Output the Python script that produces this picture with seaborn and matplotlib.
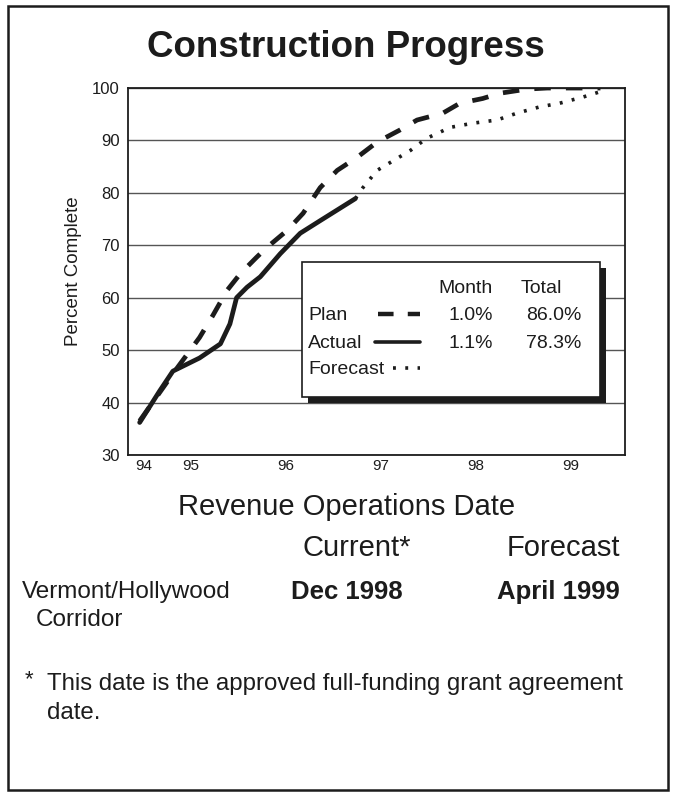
import matplotlib
matplotlib.use("Agg")
import matplotlib.pyplot as plt
import seaborn as sns
import pandas as pd
from matplotlib.patches import Rectangle
from matplotlib.lines import Line2D

# Data (x in fiscal years, y in percent complete)
plan_x = [94.46, 94.81, 95.09, 95.23, 95.38, 95.52, 95.69, 95.80, 96.01, 96.18,
          96.36, 96.54, 96.75, 96.96, 97.20, 97.38, 97.65, 97.83, 98.07, 98.25,
          98.54, 98.75, 99.00, 99.31]
plan_y = [36.5, 45.5, 52.4, 56.6, 61.4, 64.6, 67.7, 69.6, 72.8, 76.1,
          81.0, 84.3, 86.8, 89.7, 92.0, 93.9, 95.2, 97.1, 98.0, 99.0,
          99.8, 100.0, 100.0, 100.0]

actual_x = [94.46, 94.67, 94.81, 95.09, 95.31, 95.41, 95.48, 95.59, 95.73, 95.94,
            96.15, 96.36, 96.73]
actual_y = [36.2, 42.2, 46.0, 48.5, 51.2, 55.0, 60.0, 62.0, 64.0, 68.4,
            72.3, 74.7, 78.9]

forecast_x = [96.73, 96.81, 96.96, 97.31, 97.48, 97.73, 97.97, 98.22, 98.43, 98.67,
              98.88, 99.13, 99.36]
forecast_y = [78.9, 81.0, 84.3, 88.1, 90.4, 92.5, 93.3, 93.9, 95.2, 96.4,
              97.1, 98.3, 99.6]

tick_years = [94.5, 95, 96, 97, 98, 99]
tick_labels = ["94", "95", "96", "97", "98", "99"]

series_names = ["Plan", "Actual", "Forecast"]
month_vals = ["1.0%", "1.1%", ""]
total_vals = ["86.0%", "78.3%", ""]

sns.set_style("white")
plt.rcParams["font.family"] = ["Liberation Sans", "DejaVu Sans"]

ink = "#1c1c1c"

fig = plt.figure(figsize=(6.76, 7.96), dpi=100)
ax = fig.add_axes([0.1893, 0.4284, 0.7352, 0.461])

plan = pd.DataFrame({"x": plan_x, "y": plan_y})
actual = pd.DataFrame({"x": actual_x, "y": actual_y})
forecast = pd.DataFrame({"x": forecast_x, "y": forecast_y})

plan_ls = (0, (3.5, 3.2))
fc_ls = (0, (0.8, 2.6))

sns.lineplot(data=forecast, x="x", y="y", ax=ax, color=ink, lw=2.6,
             linestyle=fc_ls, estimator=None, sort=False, zorder=3)
sns.lineplot(data=plan, x="x", y="y", ax=ax, color=ink, lw=3.4,
             linestyle=plan_ls, estimator=None, sort=False, zorder=3)
sns.lineplot(data=actual, x="x", y="y", ax=ax, color=ink, lw=3.4,
             estimator=None, sort=False, zorder=4)

ax.set_xlim(94.337, 99.568)
ax.set_ylim(30, 100)
ax.set_yticks(range(30, 101, 10))
ax.set_xticks(tick_years)
ax.set_xticklabels(tick_labels)
ax.tick_params(axis="y", length=0, pad=6, labelsize=12, labelcolor=ink)
ax.tick_params(axis="x", length=0, pad=3, labelsize=11, labelcolor=ink)
ax.grid(axis="y", color="#555555", lw=1.0)
ax.grid(axis="x", visible=False)
for sp in ax.spines.values():
    sp.set_color(ink)
    sp.set_linewidth(1.3)
ax.set_xlabel("")
ax.set_ylabel("Percent Complete", fontsize=13.5, color=ink)
ax.yaxis.set_label_coords(-0.093, 0.5)

# legend box with shadow
ax.add_patch(Rectangle((0.362, 0.142), 0.600, 0.368, transform=ax.transAxes,
                       facecolor=ink, edgecolor="none", zorder=5))
ax.add_patch(Rectangle((0.350, 0.158), 0.600, 0.368, transform=ax.transAxes,
                       facecolor="white", edgecolor=ink, lw=1.2, zorder=6))
leg_fs = 14
ax.text(0.680, 0.455, "Month", transform=ax.transAxes, ha="center", va="center",
        fontsize=leg_fs, color=ink, zorder=7)
ax.text(0.831, 0.455, "Total", transform=ax.transAxes, ha="center", va="center",
        fontsize=leg_fs, color=ink, zorder=7)
row_y = [0.381, 0.305, 0.232]
samples = [(0.503, plan_ls, 3.2), (0.497, "-", 2.6), (0.533, fc_ls, 2.6)]
for name, mv, tv, yy, (x0, ls, lw) in zip(series_names, month_vals, total_vals,
                                          row_y, samples):
    ax.text(0.362, yy, name, transform=ax.transAxes, ha="left", va="center",
            fontsize=leg_fs, color=ink, zorder=7)
    ax.add_line(Line2D([x0, 0.588], [yy + 0.004, yy + 0.004], transform=ax.transAxes,
                       color=ink, lw=lw, linestyle=ls, zorder=7))
    ax.text(0.734, yy, mv, transform=ax.transAxes, ha="right", va="center",
            fontsize=leg_fs, color=ink, zorder=7)
    ax.text(0.913, yy, tv, transform=ax.transAxes, ha="right", va="center",
            fontsize=leg_fs, color=ink, zorder=7)

# titles and table text below the chart
fig.text(0.512, 0.940, "Construction Progress", ha="center", va="center",
         fontsize=26.5, fontweight="bold", color=ink)
fig.text(0.512, 0.363, "Revenue Operations Date", ha="center", va="center",
         fontsize=21, color=ink)
fig.text(0.527, 0.312, "Current*", ha="center", va="center", fontsize=21, color=ink)
fig.text(0.917, 0.312, "Forecast", ha="right", va="center", fontsize=21, color=ink)
fig.text(0.033, 0.256, "Vermont/Hollywood", ha="left", va="center", fontsize=17.5, color=ink)
fig.text(0.053, 0.221, "Corridor", ha="left", va="center", fontsize=17.5, color=ink)
fig.text(0.513, 0.256, "Dec 1998", ha="center", va="center", fontsize=18.5,
         fontweight="bold", color=ink)
fig.text(0.917, 0.256, "April 1999", ha="right", va="center", fontsize=18.5,
         fontweight="bold", color=ink)
fig.text(0.037, 0.146, "*", ha="left", va="center", fontsize=16, color=ink)
fig.text(0.070, 0.141, "This date is the approved full-funding grant agreement",
         ha="left", va="center", fontsize=17.3, color=ink)
fig.text(0.070, 0.104, "date.", ha="left", va="center", fontsize=17.3, color=ink)

# outer frame
fig.add_artist(Rectangle((8 / 676, 6 / 796), 660 / 676, 784 / 796,
                         transform=fig.transFigure, fill=False,
                         edgecolor=ink, lw=1.8))

fig.savefig("out.png", dpi=100)
